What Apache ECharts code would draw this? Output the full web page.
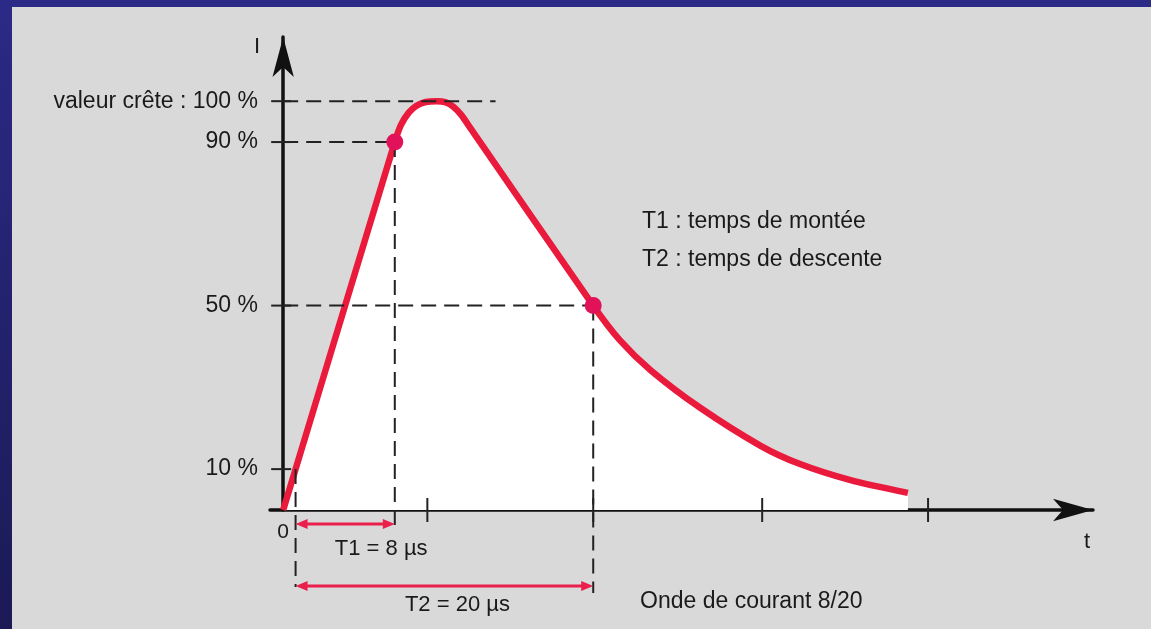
<!DOCTYPE html>
<html>
<head>
<meta charset="utf-8">
<script src="https://cdn.jsdelivr.net/npm/echarts@6/dist/echarts.min.js"></script>
<style>
  html, body { margin: 0; padding: 0; background: #d9d9d9; }
  #chart { width: 1151px; height: 629px; }
</style>
</head>
<body>
<div id="chart"></div>
<script>
// Onde de courant 8/20 : intensité relative (% de la crête) en fonction du temps (µs)
const waveTime  = [0, 0.8, 7.2, 7.6, 8.1, 8.6, 9.2, 9.9, 10.5, 11.0, 11.5, 11.9, 20, 21.7, 23.7, 26.9, 30.8, 33.3, 36.6, 40.3];
const waveLevel = [0, 10, 90, 94.2, 97.2, 98.9, 99.8, 100, 99.7, 98.6, 96.6, 94.4, 50, 41.6, 34.2, 25.0, 15.7, 11.3, 7.3, 4.2];

// niveaux repérés sur l'axe I
const levelValues = [100, 90, 50, 10];
const levelLabels = ['valeur crête : 100 %', '90 %', '50 %', '10 %'];

// graduations de l'axe t (µs)
const timeTicks = [9.3, 20, 30.9, 41.6];

// points caractéristiques [t (µs), I (%)]
const point10 = [0.8, 10];
const point90 = [7.2, 90];
const point50 = [20, 50];
const crestGuideEnd = 13.7;

// durées T1 et T2 : début et fin (µs)
const spanNames = ['T1 = 8 µs', 'T2 = 20 µs'];
const spanStart = [0.8, 0.8];
const spanEnd   = [7.2, 20];

// légendes
const notes = ['T1 : temps de montée', 'T2 : temps de descente'];
const caption = 'Onde de courant 8/20';

// --- styles -------------------------------------------------------------
const FONT = '"Liberation Sans", Arial, Helvetica, sans-serif';
const INK = '#1a1a1a';
const RED = '#ea1a3c';
const DOT = '#e2125a';
const ARROW_RED = '#ea1f4c';
const DASH = { stroke: '#222222', lineWidth: 2, lineDash: [15, 8] };

// vertical guides: how far (px) each one runs below the time axis
const guideDrops = [77, 22, 83];
// T1/T2 arrows: distance (px) below the time axis, and label offset from arrow middle
const arrowDrops = [14, 76];
const arrowLabelOffset = [[36, 25], [13, 19]];

const chart = echarts.init(document.getElementById('chart'), null, { renderer: 'canvas' });

const option = {
  backgroundColor: '#d9d9d9',
  animation: false,
  grid: { left: 270, right: 58, top: 37, bottom: 119 },
  xAxis: {
    type: 'value',
    min: -0.85,
    max: 52.24,
    axisLine: {
      show: true,
      onZero: true,
      symbol: ['none', 'arrow'],
      symbolSize: [17, 40],
      lineStyle: { color: '#111', width: 3.5 }
    },
    axisTick: { show: false },
    splitLine: { show: false },
    axisLabel: {
      customValues: [0],
      margin: 12,
      color: INK,
      fontFamily: FONT,
      fontSize: 21
    }
  },
  yAxis: {
    type: 'value',
    min: 0,
    max: 115.7,
    axisLine: {
      show: true,
      onZero: true,
      symbol: ['none', 'arrow'],
      symbolSize: [16, 40],
      lineStyle: { color: '#111', width: 3.5 }
    },
    axisTick: { show: false },
    splitLine: { show: false },
    axisLabel: {
      customValues: levelValues,
      margin: 12,
      color: INK,
      fontFamily: FONT,
      fontSize: 23,
      formatter: (v) => levelLabels[levelValues.indexOf(v)]
    }
  },
  graphic: [
    { type: 'rect', left: 0, top: 0, shape: { width: 1151, height: 7 }, style: { fill: '#2b2a86' }, z: 100 },
    {
      type: 'rect', left: 0, top: 0, shape: { width: 12, height: 629 }, z: 100,
      style: {
        fill: new echarts.graphic.LinearGradient(0, 0, 0, 1, [
          { offset: 0, color: '#2b2a86' },
          { offset: 1, color: '#1b1a55' }
        ])
      }
    },
    { type: 'text', x: 257, y: 47, style: { text: 'I', fill: INK, font: '22px ' + FONT, align: 'center', verticalAlign: 'middle' } },
    { type: 'text', x: 1087, y: 542, style: { text: 't', fill: INK, font: '22px ' + FONT, align: 'center', verticalAlign: 'middle' } },
    { type: 'text', x: 642, y: 222, style: { text: notes[0], fill: INK, font: '23px ' + FONT, align: 'left', verticalAlign: 'middle' } },
    { type: 'text', x: 642, y: 260, style: { text: notes[1], fill: INK, font: '23px ' + FONT, align: 'left', verticalAlign: 'middle' } },
    { type: 'text', x: 640, y: 602, style: { text: caption, fill: INK, font: '23px ' + FONT, align: 'left', verticalAlign: 'middle' } }
  ],
  series: [
    {
      // courbe de l'onde, surface blanche en dessous
      type: 'line',
      data: waveTime.map((t, i) => [t, waveLevel[i]]),
      showSymbol: false,
      smooth: 0.3,
      lineStyle: { color: RED, width: 6.5, cap: 'butt' },
      areaStyle: { color: '#ffffff', opacity: 1 },
      z: 3
    },
    {
      // guides horizontaux depuis l'axe I
      type: 'custom',
      data: [[crestGuideEnd, 100], [point90[0], point90[1]], [point50[0], point50[1]]],
      renderItem: (params, api) => {
        const from = api.coord([0, api.value(1)]);
        const to = api.coord([api.value(0), api.value(1)]);
        return { type: 'line', shape: { x1: from[0], y1: from[1], x2: to[0], y2: to[1] }, style: DASH };
      },
      z: 4
    },
    {
      // guides verticaux descendant sous l'axe t
      type: 'custom',
      data: [point10, point90, point50],
      renderItem: (params, api) => {
        const top = api.coord([api.value(0), api.value(1)]);
        const axisY = api.coord([0, 0])[1];
        return {
          type: 'line',
          shape: { x1: top[0], y1: top[1], x2: top[0], y2: axisY + guideDrops[params.dataIndex] },
          style: DASH
        };
      },
      z: 4
    },
    {
      // graduations de l'axe t
      type: 'custom',
      data: timeTicks.map((t) => [t, 0]),
      renderItem: (params, api) => {
        const p = api.coord([api.value(0), 0]);
        return { type: 'line', shape: { x1: p[0], y1: p[1] - 12, x2: p[0], y2: p[1] + 12 }, style: { stroke: '#222', lineWidth: 2 } };
      },
      z: 5
    },
    {
      // graduations de l'axe I
      type: 'custom',
      data: levelValues.map((v) => [0, v]),
      renderItem: (params, api) => {
        const p = api.coord([0, api.value(1)]);
        return { type: 'line', shape: { x1: p[0] - 12, y1: p[1], x2: p[0] + 8, y2: p[1] }, style: { stroke: '#222', lineWidth: 2 } };
      },
      z: 5
    },
    {
      // flèches T1 et T2
      type: 'custom',
      data: spanStart.map((s, i) => [s, spanEnd[i]]),
      renderItem: (params, api) => {
        const i = params.dataIndex;
        const axisY = api.coord([0, 0])[1];
        const y = axisY + arrowDrops[i];
        const x1 = api.coord([api.value(0), 0])[0];
        const x2 = api.coord([api.value(1), 0])[0];
        const L = 12, W = 5;
        const off = arrowLabelOffset[i];
        return {
          type: 'group',
          children: [
            { type: 'line', shape: { x1: x1 + L - 2, y1: y, x2: x2 - L + 2, y2: y }, style: { stroke: ARROW_RED, lineWidth: 3 } },
            { type: 'polygon', shape: { points: [[x1, y], [x1 + L, y - W], [x1 + L, y + W]] }, style: { fill: ARROW_RED } },
            { type: 'polygon', shape: { points: [[x2, y], [x2 - L, y - W], [x2 - L, y + W]] }, style: { fill: ARROW_RED } },
            {
              type: 'text', x: (x1 + x2) / 2 + off[0], y: y + off[1],
              style: { text: spanNames[i], fill: INK, font: '22px ' + FONT, align: 'center', verticalAlign: 'middle' }
            }
          ]
        };
      },
      z: 6
    },
    {
      // points 90 % et 50 %
      type: 'scatter',
      data: [point90, point50],
      symbolSize: 17,
      itemStyle: { color: DOT, opacity: 1 },
      z: 7
    }
  ]
};

chart.setOption(option);
</script>
</body>
</html>
